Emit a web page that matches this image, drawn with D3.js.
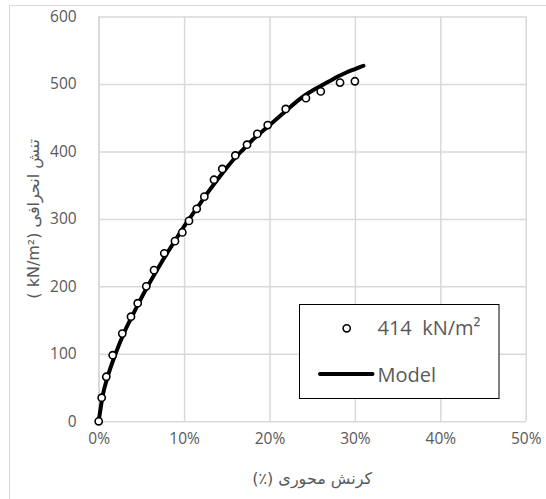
<!DOCTYPE html>
<html>
<head>
<meta charset="utf-8">
<script src="https://cdn.jsdelivr.net/npm/d3@7"></script>
<style>
  body { margin: 0; background: #fff; }
  svg text { font-family: "Open Sans", "DejaVu Sans", sans-serif; }
</style>
</head>
<body>
<div id="chart"></div>
<script>
// measured points (axial strain %, deviator stress kN/m2)
const testStrain = [0, 0.35, 0.89, 1.64, 2.76, 3.78, 4.57, 5.57, 6.48, 7.68, 8.93, 9.79, 10.57, 11.48, 12.37,
  13.5, 14.47, 16.0, 17.37, 18.57, 19.79, 21.9, 24.27, 26.0, 28.26, 30.0];
const testStress = [0, 35, 66, 98, 130, 155, 175, 200, 224, 249, 267, 280, 297, 315, 333,
  358, 374, 394, 410, 426, 439, 463, 479, 489, 502, 504];

// model curve
const modelStrain = [0, 0.5, 1, 2, 3, 4, 5, 6, 7, 8, 9, 10, 11, 12, 13, 14, 15, 16, 17, 18, 19, 20,
  21, 22, 23, 24, 25, 26, 27, 28, 29, 30, 31];
const modelStress = [0, 40, 64, 101, 132, 158, 183, 206, 228, 249, 269, 289, 307, 325, 343, 360, 376, 391, 404, 417, 428, 439,
  450, 461, 472, 482, 490, 497, 504, 511, 517, 522, 527];

const xTicks = [0, 0.1, 0.2, 0.3, 0.4, 0.5];
const yTicks = [0, 100, 200, 300, 400, 500, 600];
const seriesNames = ["414  kN/m²", "Model"];

const width = 546, height = 499;
const plot = { left: 98.7, right: 525.7, top: 16.5, bottom: 421.3 };

const svg = d3.select("#chart").append("svg")
  .attr("width", width)
  .attr("height", height);

// outer chart frame
svg.append("rect")
  .attr("x", 9.5).attr("y", 5.5)
  .attr("width", 545).attr("height", 500)
  .attr("fill", "none")
  .attr("stroke", "#d9d9d9");

const x = d3.scaleLinear().domain([0, 0.5]).range([plot.left, plot.right]);
const y = d3.scaleLinear().domain([0, 600]).range([plot.bottom, plot.top]);

// gridlines + tick labels
const yAxis = svg.append("g")
  .attr("transform", `translate(${plot.left},0)`)
  .call(d3.axisLeft(y).tickValues(yTicks).tickSize(-(plot.right - plot.left)).tickPadding(22));
const xAxis = svg.append("g")
  .attr("transform", `translate(0,${plot.bottom})`)
  .call(d3.axisBottom(x).tickValues(xTicks).tickFormat(d3.format(".0%"))
    .tickSize(-(plot.bottom - plot.top)).tickPadding(12));

[xAxis, yAxis].forEach(g => {
  g.select(".domain").remove();
  g.selectAll(".tick line").attr("stroke", "#d9d9d9").attr("stroke-width", 1.5);
  g.selectAll(".tick text").attr("fill", "#595959").style("font-size", "15.5px");
});

// left edge of plot area
svg.append("line")
  .attr("x1", plot.left).attr("x2", plot.left)
  .attr("y1", plot.top).attr("y2", plot.bottom)
  .attr("stroke", "#d9d9d9").attr("stroke-width", 1.5);

// model line
const model = modelStrain.map((d, i) => [d / 100, modelStress[i]]);
svg.append("path")
  .datum(model)
  .attr("fill", "none")
  .attr("stroke", "#000")
  .attr("stroke-width", 4)
  .attr("stroke-linecap", "round")
  .attr("d", d3.line().x(d => x(d[0])).y(d => y(d[1])).curve(d3.curveMonotoneX));

// test points
svg.append("g").selectAll("circle")
  .data(testStrain.map((d, i) => [d / 100, testStress[i]]))
  .enter()
  .append("circle")
  .attr("cx", d => x(d[0]))
  .attr("cy", d => y(d[1]))
  .attr("r", 3.6)
  .attr("fill", "#fff")
  .attr("stroke", "#000")
  .attr("stroke-width", 1.6);

// axis titles
svg.append("text")
  .attr("x", (plot.left + plot.right) / 2)
  .attr("y", 484)
  .attr("direction", "rtl")
  .attr("text-anchor", "middle")
  .attr("fill", "#595959")
  .style("font-family", "'DejaVu Sans', sans-serif")
  .style("font-size", "16px")
  .text("کرنش محوری (٪)");

svg.append("text")
  .attr("transform", `translate(39,${(plot.top + plot.bottom) / 2}) rotate(-90)`)
  .attr("text-anchor", "middle")
  .attr("fill", "#595959")
  .style("font-family", "'DejaVu Sans', sans-serif")
  .style("font-size", "16px")
  .text("( kN/m²) تنش انحرافی");

// legend
const legend = svg.append("g");
legend.append("rect")
  .attr("x", 299.5).attr("y", 304.5)
  .attr("width", 199.5).attr("height", 94)
  .attr("fill", "#fff")
  .attr("stroke", "#000");

legend.append("circle")
  .attr("cx", 346.7).attr("cy", 328.3).attr("r", 3.6)
  .attr("fill", "#fff").attr("stroke", "#000").attr("stroke-width", 1.6);
legend.append("line")
  .attr("x1", 320).attr("x2", 372.5)
  .attr("y1", 374).attr("y2", 374)
  .attr("stroke", "#000").attr("stroke-width", 4).attr("stroke-linecap", "round");

legend.selectAll("text.lbl")
  .data(seriesNames)
  .enter()
  .append("text")
  .attr("class", "lbl")
  .attr("x", 377.5)
  .attr("y", (d, i) => i === 0 ? 335 : 381.5)
  .attr("fill", "#595959")
  .style("font-size", "20px")
  .style("white-space", "pre")
  .text(d => d);
</script>
</body>
</html>
